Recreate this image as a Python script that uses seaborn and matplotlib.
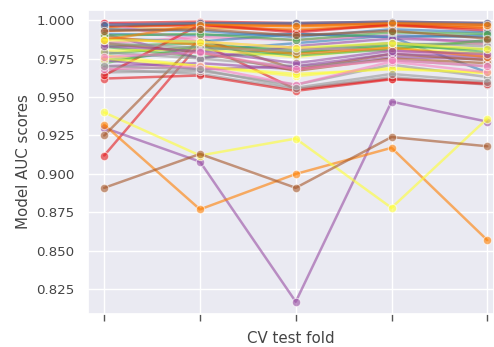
import pandas as pd
import numpy as np
import matplotlib
matplotlib.use("Agg")
import matplotlib.pyplot as plt
import seaborn as sns

### Data: AUC per model for each CV test fold
folds = [0, 1, 2, 3, 4]

auc_scores = [
    [0.912, 0.985, 0.955, 0.962, 0.959],
    [0.991, 0.990, 0.991, 0.989, 0.966],
    [0.983, 0.985, 0.979, 0.984, 0.985],
    [0.930, 0.908, 0.817, 0.947, 0.934],
    [0.932, 0.877, 0.900, 0.917, 0.857],
    [0.940, 0.912, 0.923, 0.878, 0.936],
    [0.891, 0.913, 0.891, 0.924, 0.918],
    [0.998, 0.996, 0.997, 0.998, 0.997],
    [0.968, 0.965, 0.955, 0.963, 0.958],
    [0.962, 0.964, 0.954, 0.9615, 0.9585],
    [0.974, 0.980, 0.985, 0.990, 0.989],
    [0.978, 0.983, 0.981, 0.985, 0.979],
    [0.970, 0.972, 0.968, 0.976, 0.9745],
    [0.995, 0.997, 0.996, 0.997, 0.996],
    [0.977, 0.970, 0.9636, 0.969, 0.9654],
    [0.925, 0.988, 0.968, 0.978, 0.974],
    [0.985, 0.989, 0.987, 0.990, 0.984],
    [0.966, 0.967, 0.958, 0.971, 0.963],
    [0.996, 0.997, 0.993, 0.997, 0.9946],
    [0.988, 0.986, 0.991, 0.989, 0.990],
    [0.9827, 0.976, 0.979, 0.983, 0.981],
    [0.991, 0.975, 0.983, 0.988, 0.986],
    [0.993, 0.995, 0.994, 0.996, 0.995],
    [0.980, 0.981, 0.976, 0.982, 0.978],
    [0.985, 0.979, 0.967, 0.975, 0.972],
    [0.9979, 0.986, 0.982, 0.980, 0.977],
    [0.979, 0.975, 0.970, 0.974, 0.970],
    [0.964, 0.997, 0.992, 0.997, 0.993],
    [0.994, 0.993, 0.989, 0.994, 0.992],
    [0.972, 0.983, 0.977, 0.981, 0.987],
    [0.974, 0.968, 0.970, 0.978, 0.976],
    [0.989, 0.984, 0.978, 0.982, 0.976],
    [0.975, 0.970, 0.965, 0.968, 0.966],
    [0.996, 0.998, 0.997, 0.998, 0.997],
    [0.968, 0.970, 0.958, 0.973, 0.966],
    [0.985, 0.982, 0.980, 0.985, 0.983],
    [0.998, 0.999, 0.998, 0.999, 0.998],
    [0.997, 0.998, 0.998, 0.999, 0.998],
    [0.990, 0.991, 0.987, 0.992, 0.991],
    [0.983, 0.980, 0.972, 0.980, 0.978],
    [0.987, 0.997, 0.996, 0.998, 0.997],
    [0.987, 0.986, 0.982, 0.985, 0.981],
    [0.993, 0.994, 0.990, 0.993, 0.988],
    [0.976, 0.979, 0.968, 0.974, 0.970],
    [0.970, 0.968, 0.956, 0.965, 0.960],
]
model_names = [f"model_{i}" for i in range(len(auc_scores))]

# long format for seaborn
rows = []
for name, scores in zip(model_names, auc_scores):
    for f, s in zip(folds, scores):
        rows.append({"model": name, "fold": f, "auc": s})
df = pd.DataFrame(rows)

### Plot
sns.set_theme(style="darkgrid")
fig = plt.figure(figsize=(4.94, 3.47), dpi=100)
ax = fig.add_axes([0.178, 0.095, 0.822, 0.876])

set1 = sns.color_palette("Set1", 9)
palette = [set1[i % 9] for i in range(len(model_names))]

sns.lineplot(data=df, x="fold", y="auc", hue="model", palette=palette,
             marker="o", markersize=6, linewidth=1.8, alpha=0.6,
             legend=False, ax=ax)

ax.set_xlim(-0.17, 4.07)
ax.set_ylim(0.809, 1.0065)
ax.set_xticks(folds)
ax.set_xticklabels([])
ax.tick_params(axis="x", bottom=True, length=5, width=1, color="#555555", direction="out")
ax.tick_params(axis="y", labelsize=9.6, colors="#444444")
ax.set_xlabel("CV test fold", fontsize=10.8, color="#444444")
ax.set_ylabel("Model AUC scores", fontsize=10.8, color="#444444")

plt.savefig("out.png", dpi=100)
